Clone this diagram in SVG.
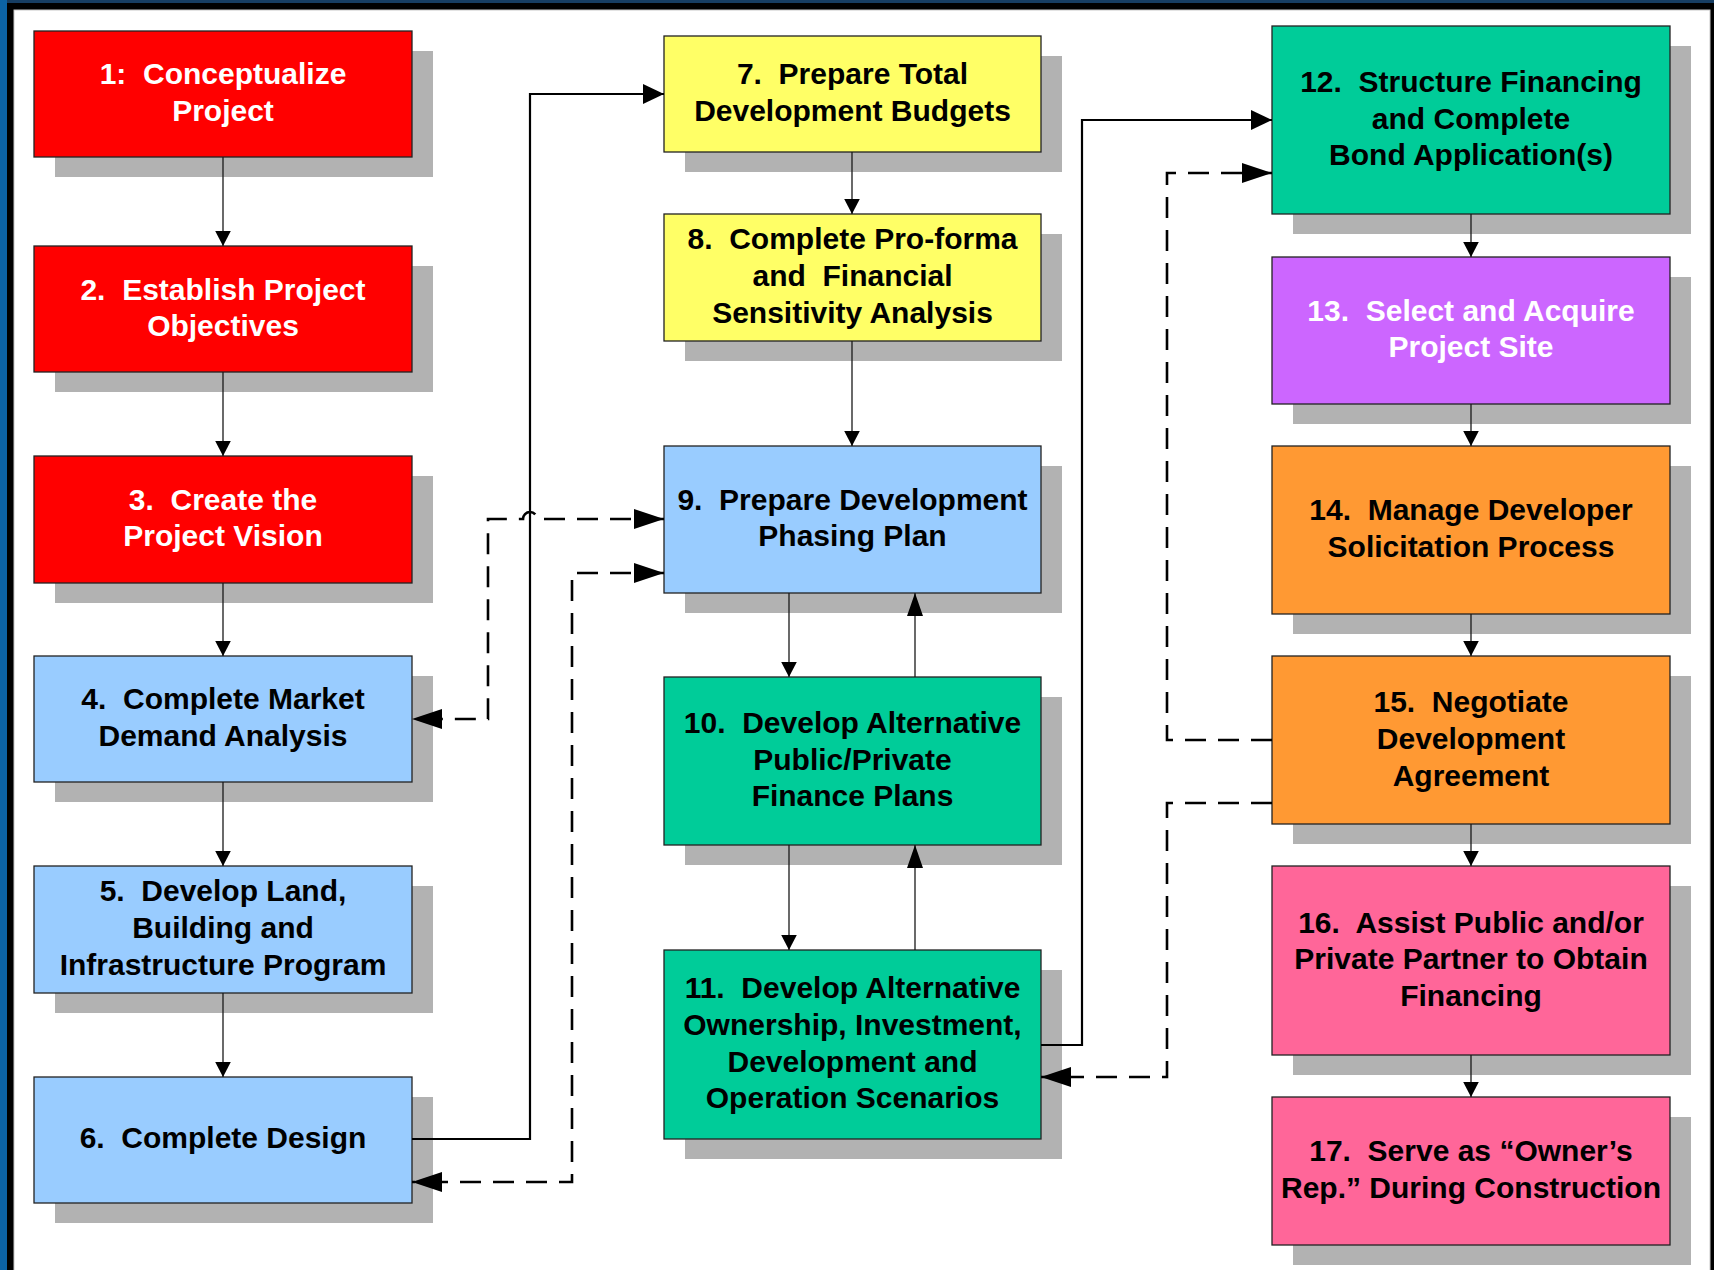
<svg xmlns="http://www.w3.org/2000/svg" width="1714" height="1270" viewBox="0 0 1714 1270">
  <style>
    .sh { fill: #B2B2B2; }
    .box { stroke: #222; stroke-width: 1.3; }
    .red { fill: #FF0000; }
    .blue { fill: #99CCFF; }
    .yellow { fill: #FFFF66; }
    .green { fill: #00CC99; }
    .purple { fill: #CC66FF; }
    .orange { fill: #FF9933; }
    .pink { fill: #FF6699; }
    .lbl { font-family: "Liberation Sans", Arial, sans-serif; font-weight: bold; font-size: 30px; text-anchor: middle; fill: #000; }
    .lbl.w { fill: #FFFFFF; }
    .thin { fill: none; stroke: #1a1a1a; stroke-width: 1.3; }
    .route { fill: none; stroke: #000; stroke-width: 2.2; }
    .dash { fill: none; stroke: #000; stroke-width: 2.6; stroke-dasharray: 21 12; }
  </style>
  <defs>
    <marker id="a-s" markerUnits="userSpaceOnUse" viewBox="0 0 15 15.6" markerWidth="15" markerHeight="15.6" refX="15" refY="7.8" orient="auto">
      <path d="M0,0 L15,7.8 L0,15.6 Z" fill="#000"/>
    </marker>
    <marker id="a-l" markerUnits="userSpaceOnUse" viewBox="0 0 23 16" markerWidth="23" markerHeight="16" refX="23" refY="8" orient="auto">
      <path d="M0,0 L23,8 L0,16 Z" fill="#000"/>
    </marker>
    <marker id="a-b" markerUnits="userSpaceOnUse" viewBox="0 0 21 20" markerWidth="21" markerHeight="20" refX="21" refY="10" orient="auto">
      <path d="M0,0 L21,10 L0,20 Z" fill="#000"/>
    </marker>
    <marker id="a-d" markerUnits="userSpaceOnUse" viewBox="0 0 30 20" markerWidth="30" markerHeight="20" refX="30" refY="10" orient="auto-start-reverse">
      <path d="M0,0 L30,10 L0,20 Z" fill="#000"/>
    </marker>
  </defs>

  <!-- frame -->
  <g id="frame">
    <rect x="0" y="0" width="1714" height="1270" fill="#0C63A5"/>
    <rect x="7" y="0" width="1707" height="3" fill="#163D62"/>
    <rect x="7" y="3" width="1707" height="1267" fill="#000"/>
    <rect x="14" y="10" width="1696" height="1262" fill="#FFFFFF" stroke="#C8C8C8" stroke-width="1"/>
  </g>

  <!-- column 1 -->
  <g id="n1"><rect class="sh" x="55" y="51" width="378" height="126"/><rect class="box red" x="34" y="31" width="378" height="126"/><text class="lbl w"><tspan x="223" y="84">1:&#160; Conceptualize</tspan><tspan x="223" y="120.7">Project</tspan></text></g>
  <g id="n2"><rect class="sh" x="55" y="266" width="378" height="126"/><rect class="box red" x="34" y="246" width="378" height="126"/><text class="lbl w"><tspan x="223" y="299.5">2.&#160; Establish Project</tspan><tspan x="223" y="336.2">Objectives</tspan></text></g>
  <g id="n3"><rect class="sh" x="55" y="476" width="378" height="127"/><rect class="box red" x="34" y="456" width="378" height="127"/><text class="lbl w"><tspan x="223" y="509.5">3.&#160; Create the</tspan><tspan x="223" y="546.2">Project Vision</tspan></text></g>
  <g id="n4"><rect class="sh" x="55" y="676" width="378" height="126"/><rect class="box blue" x="34" y="656" width="378" height="126"/><text class="lbl"><tspan x="223" y="709.4">4.&#160; Complete Market</tspan><tspan x="223" y="746">Demand Analysis</tspan></text></g>
  <g id="n5"><rect class="sh" x="55" y="886" width="378" height="127"/><rect class="box blue" x="34" y="866" width="378" height="127"/><text class="lbl"><tspan x="223" y="901.2">5.&#160; Develop Land,</tspan><tspan x="223" y="937.8">Building and</tspan><tspan x="223" y="974.5">Infrastructure Program</tspan></text></g>
  <g id="n6"><rect class="sh" x="55" y="1097" width="378" height="126"/><rect class="box blue" x="34" y="1077" width="378" height="126"/><text class="lbl"><tspan x="223" y="1148.2">6.&#160; Complete Design</tspan></text></g>

  <!-- column 2 -->
  <g id="n7"><rect class="sh" x="685" y="56" width="377" height="116"/><rect class="box yellow" x="664" y="36" width="377" height="116"/><text class="lbl"><tspan x="852.5" y="84">7.&#160; Prepare Total</tspan><tspan x="852.5" y="120.7">Development Budgets</tspan></text></g>
  <g id="n8"><rect class="sh" x="685" y="234" width="377" height="127"/><rect class="box yellow" x="664" y="214" width="377" height="127"/><text class="lbl"><tspan x="852.5" y="249.3">8.&#160; Complete Pro-forma</tspan><tspan x="852.5" y="286">and&#160; Financial</tspan><tspan x="852.5" y="322.7">Sensitivity Analysis</tspan></text></g>
  <g id="n9"><rect class="sh" x="685" y="466" width="377" height="147"/><rect class="box blue" x="664" y="446" width="377" height="147"/><text class="lbl"><tspan x="852.5" y="509.7">9.&#160; Prepare Development</tspan><tspan x="852.5" y="546.4">Phasing Plan</tspan></text></g>
  <g id="n10"><rect class="sh" x="685" y="697" width="377" height="168"/><rect class="box green" x="664" y="677" width="377" height="168"/><text class="lbl"><tspan x="852.5" y="732.8">10.&#160; Develop Alternative</tspan><tspan x="852.5" y="769.5">Public/Private</tspan><tspan x="852.5" y="806.2">Finance Plans</tspan></text></g>
  <g id="n11"><rect class="sh" x="685" y="970" width="377" height="189"/><rect class="box green" x="664" y="950" width="377" height="189"/><text class="lbl"><tspan x="852.5" y="998.3">11.&#160; Develop Alternative</tspan><tspan x="852.5" y="1035">Ownership, Investment,</tspan><tspan x="852.5" y="1071.7">Development and</tspan><tspan x="852.5" y="1108.3">Operation Scenarios</tspan></text></g>

  <!-- column 3 -->
  <g id="n12"><rect class="sh" x="1293" y="46" width="398" height="188"/><rect class="box green" x="1272" y="26" width="398" height="188"/><text class="lbl"><tspan x="1471" y="91.8">12.&#160; Structure Financing</tspan><tspan x="1471" y="128.5">and Complete</tspan><tspan x="1471" y="165.2">Bond Application(s)</tspan></text></g>
  <g id="n13"><rect class="sh" x="1293" y="277" width="398" height="147"/><rect class="box purple" x="1272" y="257" width="398" height="147"/><text class="lbl w"><tspan x="1471" y="320.5">13.&#160; Select and Acquire</tspan><tspan x="1471" y="357.2">Project Site</tspan></text></g>
  <g id="n14"><rect class="sh" x="1293" y="466" width="398" height="168"/><rect class="box orange" x="1272" y="446" width="398" height="168"/><text class="lbl"><tspan x="1471" y="520.2">14.&#160; Manage Developer</tspan><tspan x="1471" y="556.8">Solicitation Process</tspan></text></g>
  <g id="n15"><rect class="sh" x="1293" y="676" width="398" height="168"/><rect class="box orange" x="1272" y="656" width="398" height="168"/><text class="lbl"><tspan x="1471" y="712.1">15.&#160; Negotiate</tspan><tspan x="1471" y="748.8">Development</tspan><tspan x="1471" y="785.5">Agreement</tspan></text></g>
  <g id="n16"><rect class="sh" x="1293" y="886" width="398" height="189"/><rect class="box pink" x="1272" y="866" width="398" height="189"/><text class="lbl"><tspan x="1471" y="932.6">16.&#160; Assist Public and/or</tspan><tspan x="1471" y="969.3">Private Partner to Obtain</tspan><tspan x="1471" y="1006">Financing</tspan></text></g>
  <g id="n17"><rect class="sh" x="1293" y="1117" width="398" height="148"/><rect class="box pink" x="1272" y="1097" width="398" height="148"/><text class="lbl"><tspan x="1471" y="1161.2">17.&#160; Serve as “Owner’s</tspan><tspan x="1471" y="1197.8">Rep.” During Construction</tspan></text></g>

  <!-- connectors -->
  <g id="connectors">
    <path class="thin" d="M223,157 V246" marker-end="url(#a-s)"/>
    <path class="thin" d="M223,372 V456" marker-end="url(#a-s)"/>
    <path class="thin" d="M223,583 V656" marker-end="url(#a-s)"/>
    <path class="thin" d="M223,782 V866" marker-end="url(#a-s)"/>
    <path class="thin" d="M223,993 V1077" marker-end="url(#a-s)"/>

    <path class="thin" d="M852,152 V214" marker-end="url(#a-s)"/>
    <path class="thin" d="M852,341 V446" marker-end="url(#a-s)"/>
    <path class="thin" d="M789,593 V677" marker-end="url(#a-s)"/>
    <path class="thin" d="M915,677 V593" marker-end="url(#a-l)"/>
    <path class="thin" d="M789,845 V950" marker-end="url(#a-s)"/>
    <path class="thin" d="M915,950 V845" marker-end="url(#a-l)"/>

    <path class="thin" d="M1471,214 V257" marker-end="url(#a-s)"/>
    <path class="thin" d="M1471,404 V446" marker-end="url(#a-s)"/>
    <path class="thin" d="M1471,614 V656" marker-end="url(#a-s)"/>
    <path class="thin" d="M1471,824 V866" marker-end="url(#a-s)"/>
    <path class="thin" d="M1471,1055 V1097" marker-end="url(#a-s)"/>

    <path class="route" d="M412,1139 H530 V94 H664" marker-end="url(#a-b)"/>
    <path class="route" d="M1041,1045 H1082 V120 H1272" marker-end="url(#a-b)"/>

    <path class="dash" d="M664,519 H537 A7,7 0 0 0 523,519 H488 V719 H412" marker-start="url(#a-d)" marker-end="url(#a-d)"/>
    <path class="dash" d="M664,573 H572 V1182 H412" marker-start="url(#a-d)" marker-end="url(#a-d)"/>
    <path class="dash" d="M1272,740 H1167 V173 H1272" marker-end="url(#a-d)"/>
    <path class="dash" d="M1272,803 H1167 V1077 H1041" marker-end="url(#a-d)"/>
  </g>
</svg>
